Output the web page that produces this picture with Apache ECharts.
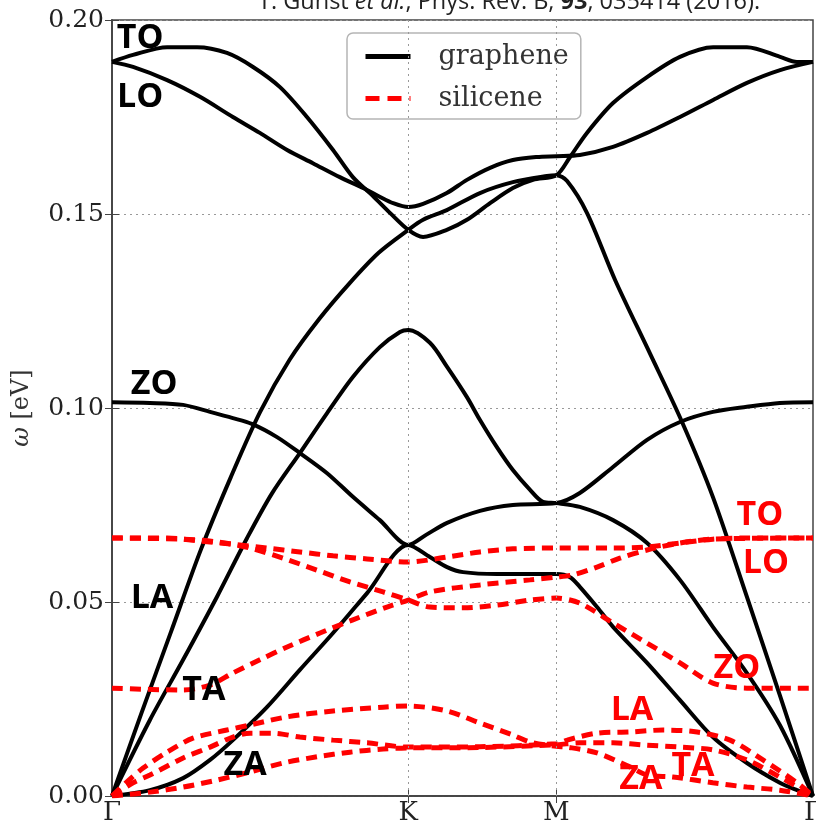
<!DOCTYPE html>
<html>
<head>
<meta charset="utf-8">
<script src="https://cdn.jsdelivr.net/npm/echarts@6/dist/echarts.min.js"></script>
<style>
  html, body { margin: 0; padding: 0; background: #fff; }
  #chart { width: 816px; height: 829px; }
</style>
</head>
<body>
<div id="chart"></div>
<script>
// high-symmetry points along the path (path length units)
const kPos = [0, 1, 1.5, 2.366];
const kLabels = ['Γ', 'K', 'M', 'Γ'];
const yTicks = [0, 0.05, 0.10, 0.15, 0.20];

// graphene bands [k, omega(eV)]
const grTO = [[0,0.1892],[0.071,0.1910],[0.186,0.1930],[0.287,0.1930],[0.388,0.1915],[0.476,0.1879],[0.567,0.1827],[0.658,0.1750],[0.746,0.1665],[0.813,0.1595],[0.881,0.1546],[0.938,0.1503],[1.0,0.1459],
  [1.05,0.1441],[1.13,0.1459],[1.198,0.1485],[1.276,0.1528],[1.353,0.1567],[1.421,0.1588],[1.5,0.1600],
  [1.546,0.1647],[1.603,0.1709],[1.691,0.1786],[1.806,0.1853],[1.917,0.1905],[2.029,0.1930],[2.143,0.1930],[2.255,0.1905],[2.312,0.1892],[2.366,0.1892]];
const grLO = [[0,0.1892],[0.071,0.1879],[0.186,0.1845],[0.297,0.1802],[0.408,0.1750],[0.499,0.1709],[0.591,0.1665],[0.678,0.1631],[0.769,0.1595],[0.861,0.1562],[0.905,0.1544],[0.949,0.1528],[1.0,0.1518],
  [1.05,0.1526],[1.13,0.1554],[1.198,0.1588],[1.276,0.1619],[1.353,0.1639],[1.434,0.1647],[1.5,0.1649],
  [1.579,0.1652],[1.691,0.1673],[1.806,0.1709],[1.917,0.1750],[2.029,0.1794],[2.143,0.1838],[2.255,0.1871],[2.366,0.1892]];
const grLA = [[0,0],[0.1,0.0215],[0.2,0.0425],[0.3,0.0635],[0.4,0.0820],[0.5,0.0990],[0.6,0.1125],[0.7,0.1230],[0.8,0.1320],[0.9,0.1400],[1.0,0.1459],
  [1.05,0.1485],[1.13,0.1510],[1.242,0.1554],[1.353,0.1582],[1.468,0.1598],[1.5,0.1600],
  [1.536,0.1585],[1.603,0.1503],[1.698,0.1330],[1.816,0.1140],[1.924,0.0964],[2.028,0.0771],[2.143,0.0513],[2.254,0.0260],[2.366,0]];
const grTA = [[0,0],[0.128,0.0196],[0.24,0.0351],[0.354,0.0513],[0.456,0.0665],[0.54,0.0780],[0.634,0.0884],[0.726,0.0987],[0.813,0.1080],[0.904,0.1157],[0.972,0.1196],[1.0,0.1201],
  [1.073,0.1168],[1.131,0.1106],[1.198,0.1028],[1.242,0.0969],[1.299,0.0899],[1.353,0.0840],[1.411,0.0789],[1.455,0.0758],[1.5,0.0755],
  [1.579,0.0745],[1.691,0.0711],[1.806,0.0652],[1.917,0.0557],[2.028,0.0436],[2.143,0.0317],[2.254,0.0183],[2.366,0]];
const grZO = [[0,0.1015],[0.128,0.1013],[0.24,0.1008],[0.331,0.0990],[0.408,0.0974],[0.472,0.0959],[0.557,0.0925],[0.634,0.0884],[0.726,0.0832],[0.813,0.0771],[0.904,0.0711],[1.0,0.0647],
  [1.06,0.0673],[1.131,0.0704],[1.242,0.0735],[1.353,0.0750],[1.5,0.0755],
  [1.579,0.0781],[1.691,0.0848],[1.806,0.0918],[1.917,0.0964],[2.028,0.0990],[2.143,0.1003],[2.254,0.1013],[2.366,0.1015]];
const grZA = [[0,0],[0.128,0.0015],[0.24,0.0046],[0.331,0.0093],[0.408,0.0144],[0.523,0.0229],[0.634,0.0325],[0.746,0.0420],[0.861,0.0523],[1.0,0.0647],
  [1.073,0.0616],[1.131,0.0590],[1.185,0.0577],[1.299,0.0572],[1.411,0.0572],[1.5,0.0572],
  [1.546,0.0564],[1.579,0.0539],[1.637,0.0487],[1.691,0.0436],[1.806,0.0343],[1.917,0.0247],[2.028,0.0152],[2.143,0.0085],[2.254,0.0034],[2.312,0.0015],[2.366,0]];

// silicene bands [k, omega(eV)]
const siTO = [[0,0.0665],[0.186,0.0665],[0.297,0.0657],[0.408,0.0649],[0.523,0.0639],[0.634,0.0629],[0.746,0.0619],[0.861,0.0611],[1.0,0.0603],
  [1.131,0.0616],[1.242,0.0629],[1.353,0.0637],[1.5,0.0639],
  [1.691,0.0639],[1.806,0.0642],[1.917,0.0652],[2.028,0.0662],[2.143,0.0665],[2.366,0.0665]];
const siLO = [[0,0.0665],[0.24,0.0662],[0.354,0.0655],[0.466,0.0639],[0.577,0.0613],[0.692,0.0582],[0.803,0.0552],[0.915,0.0526],[1.0,0.0505],
  [1.073,0.0487],[1.185,0.0485],[1.299,0.0492],[1.411,0.0505],[1.5,0.0510],
  [1.579,0.0497],[1.691,0.0446],[1.806,0.0394],[1.917,0.0343],[2.028,0.0291],[2.143,0.0278],[2.366,0.0278]];
const siZO = [[0,0.0278],[0.24,0.0273],[0.331,0.0286],[0.408,0.0317],[0.499,0.0351],[0.591,0.0384],[0.702,0.0420],[0.813,0.0454],[0.928,0.0487],[1.0,0.0505],
  [1.073,0.0526],[1.242,0.0544],[1.411,0.0557],[1.5,0.0564],
  [1.556,0.0570],[1.637,0.0590],[1.714,0.0613],[1.806,0.0634],[1.917,0.0652],[2.028,0.0662],[2.366,0.0665]];
const siLA = [[0,0],[0.057,0.0041],[0.105,0.0072],[0.186,0.0113],[0.273,0.0149],[0.388,0.0170],[0.466,0.0183],[0.591,0.0204],[0.746,0.0219],[0.915,0.0229],[1.0,0.0232],
  [1.131,0.0219],[1.242,0.0188],[1.353,0.0157],[1.411,0.0139],[1.5,0.0128],
  [1.536,0.0126],[1.637,0.0111],[1.748,0.0075],[1.806,0.0054],[1.893,0.0049],[2.028,0.0034],[2.143,0.0023],[2.254,0.0015],[2.366,0]];
const siTA = [[0,0],[0.071,0.0034],[0.128,0.0054],[0.24,0.0098],[0.331,0.0126],[0.408,0.0152],[0.466,0.0162],[0.543,0.0162],[0.634,0.0152],[0.746,0.0144],[0.861,0.0137],[1.0,0.0126],
  [1.242,0.0127],[1.5,0.0135],
  [1.536,0.0144],[1.637,0.0162],[1.748,0.0165],[1.86,0.0170],[1.975,0.0165],[2.086,0.0144],[2.197,0.0093],[2.312,0.0034],[2.366,0]];
const siZA = [[0,0],[0.128,0.0010],[0.24,0.0023],[0.354,0.0041],[0.466,0.0062],[0.577,0.0085],[0.692,0.0101],[0.803,0.0113],[0.915,0.0121],[1.0,0.0124],
  [1.242,0.0125],[1.5,0.0132],
  [1.579,0.0137],[1.691,0.0137],[1.806,0.0131],[1.917,0.0126],[2.028,0.0119],[2.143,0.0093],[2.254,0.0049],[2.366,0]];

// mode labels [k, omega, text]
const grapheneLabels = [[0.095,0.1954,'TO'],[0.095,0.1800,'LO'],[0.142,0.1062,'ZO'],[0.135,0.0510,'LA'],[0.310,0.0273,'TA'],[0.449,0.0080,'ZA']];
const siliceneLabels = [[2.187,0.0724,'TO'],[2.207,0.0600,'LO'],[2.109,0.0330,'ZO'],[1.755,0.0222,'LA'],[1.961,0.0077,'TA'],[1.785,0.0044,'ZA']];

const grapheneBands = [grTO, grLO, grLA, grTA, grZO, grZA];
const siliceneBands = [siTO, siLO, siZO, siLA, siTA, siZA];

const chart = echarts.init(document.getElementById('chart'));

const serif = 'DejaVu Serif';
const frameColor = '#444';
const gridLine = { color: '#999', type: [2, 4], width: 1 };

function labelSeries(list, color) {
  return {
    type: 'scatter',
    name: 'labels',
    symbolSize: 1,
    itemStyle: { color: 'rgba(0,0,0,0)', opacity: 1 },
    z: 10,
    silent: true,
    label: {
      show: true,
      position: 'inside',
      formatter: '{b}',
      color: color,
      opacity: 1,
      fontFamily: 'Open Sans',
      fontWeight: 'bold',
      fontSize: 34
    },
    data: list.map(d => ({ value: [d[0], d[1]], name: d[2] }))
  };
}

var series = [];
// vertical dotted lines at K and M
series.push({
  type: 'line',
  name: 'kgrid',
  data: [],
  markLine: {
    silent: true,
    symbol: 'none',
    label: { show: false },
    lineStyle: gridLine,
    data: kPos.slice(1, 3).map(v => ({ xAxis: v }))
  }
});
grapheneBands.forEach(function (d) {
  series.push({
    type: 'line', name: 'graphene', data: d,
    symbol: 'none', smooth: 0.3, z: 3,
    lineStyle: { color: '#000', width: 4 },
    itemStyle: { color: '#000' }
  });
});
siliceneBands.forEach(function (d) {
  series.push({
    type: 'line', name: 'silicene', data: d,
    symbol: 'none', smooth: 0.3, z: 4,
    lineStyle: { color: '#ff0000', width: 5, type: [11, 7] },
    itemStyle: { color: '#ff0000' }
  });
});
series.push(labelSeries(grapheneLabels, '#000'));
series.push(labelSeries(siliceneLabels, '#ff0000'));

const option = {
  animation: false,
  backgroundColor: '#fff',
  title: {
    text: 'T. Gunst {i|et al.}, Phys. Rev. B, {b|93}, 035414 (2016).',
    left: 253,
    top: -15,
    textStyle: {
      fontFamily: 'Open Sans', fontSize: 23.5, fontWeight: 'normal', color: '#222',
      rich: {
        i: { fontFamily: 'Open Sans', fontSize: 23.5, fontStyle: 'italic', color: '#222' },
        b: { fontFamily: 'Open Sans', fontSize: 23.5, fontWeight: 'bold', color: '#222' }
      }
    }
  },
  legend: {
    data: [
      { name: 'graphene' },
      { name: 'silicene', lineStyle: { type: [14, 8] } }
    ],
    orient: 'vertical',
    left: 347,
    top: 33,
    padding: [10, 12, 7, 16],
    itemWidth: 45,
    itemHeight: 14,
    itemGap: 15,
    backgroundColor: 'rgba(255,255,255,0.2)',
    borderColor: '#b5b5b5',
    borderWidth: 1.5,
    borderRadius: 6,
    itemStyle: { color: 'rgba(0,0,0,0)', borderWidth: 0 },
    lineStyle: { width: 5 },
    textStyle: { fontFamily: serif, fontSize: 27, color: '#333', padding: [0, 0, 0, 23] }
  },
  grid: {
    left: 112, right: 3, top: 20, bottom: 33,
    outerBoundsMode: 'none',
    show: true, borderColor: frameColor, borderWidth: 1.5
  },
  xAxis: [{
    type: 'value', min: kPos[0], max: kPos[3],
    axisLine: { lineStyle: { color: frameColor, width: 1.5 } },
    axisTick: { inside: true, length: 7, customValues: kPos.slice(1, 3), lineStyle: { color: frameColor } },
    axisLabel: {
      customValues: kPos,
      margin: 4,
      alignMinLabel: 'center',
      alignMaxLabel: 'center',
      fontFamily: serif, fontSize: 26, color: '#222',
      formatter: function (v) {
        const i = kPos.findIndex(p => Math.abs(p - v) < 1e-6);
        return i >= 0 ? kLabels[i] : '';
      }
    },
    splitLine: { show: false }
  }, {
    type: 'value', position: 'top', min: kPos[0], max: kPos[3],
    axisLine: { lineStyle: { color: frameColor, width: 1.5 } },
    axisTick: { inside: true, length: 7, customValues: kPos.slice(1, 3), lineStyle: { color: frameColor } },
    axisLabel: { show: false },
    splitLine: { show: false }
  }],
  yAxis: [{
    type: 'value', min: yTicks[0], max: yTicks[yTicks.length - 1], interval: 0.05,
    name: '{i|ω} [eV]',
    nameLocation: 'middle',
    nameGap: 78,
    nameTextStyle: {
      fontFamily: serif, fontSize: 24, color: '#333',
      rich: { i: { fontFamily: serif, fontSize: 24, fontStyle: 'italic', color: '#333' } }
    },
    axisLine: { show: true, lineStyle: { color: frameColor, width: 1.5 } },
    axisTick: { show: true, inside: true, length: 7, lineStyle: { color: frameColor } },
    axisLabel: {
      margin: 8, fontFamily: serif, fontSize: 25, color: '#222',
      formatter: v => v.toFixed(2)
    },
    splitLine: { lineStyle: gridLine }
  }, {
    type: 'value', position: 'right', min: yTicks[0], max: yTicks[yTicks.length - 1], interval: 0.05,
    axisLine: { show: true, lineStyle: { color: frameColor, width: 1.5 } },
    axisTick: { show: true, inside: true, length: 7, lineStyle: { color: frameColor } },
    axisLabel: { show: false },
    splitLine: { show: false }
  }],
  series: series
};

chart.setOption(option);
</script>
</body>
</html>
